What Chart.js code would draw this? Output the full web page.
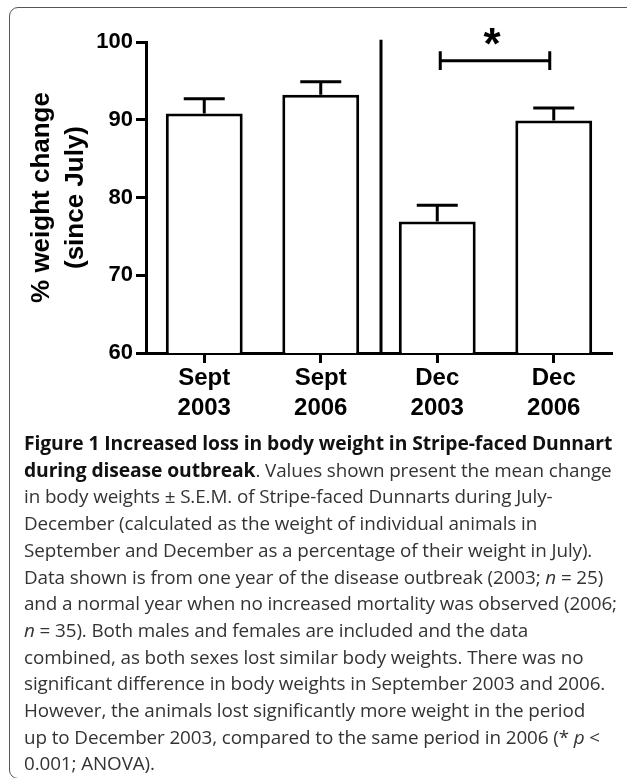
<!DOCTYPE html>
<html>
<head>
<meta charset="utf-8">
<script src="https://cdn.jsdelivr.net/npm/chart.js@4.4.1/dist/chart.umd.min.js"></script>
<style>
  html, body { margin: 0; padding: 0; background: #fff; width: 627px; height: 778px; overflow: hidden; }
  #frame {
    position: absolute; left: 9px; top: 7px; width: 660px; height: 772px;
    border: 1.5px solid #555; border-radius: 9px; box-sizing: border-box;
  }
  #plot { position: absolute; left: 0; top: 0; }
  #caption {
    position: absolute; left: 24px; top: 430px;
    font-family: "Open Sans", Lato, sans-serif; font-size: 18.85px; line-height: 26.7px;
    color: #333; white-space: nowrap; letter-spacing: -0.1px;
  }
  #caption b { color: #111; font-weight: 700; font-size: 19.3px; }
</style>
</head>
<body>
<div id="frame"></div>
<canvas id="plot" width="627" height="430"></canvas>
<div id="caption">
  <b>Figure 1 Increased loss in body weight in Stripe-faced Dunnart</b><br>
  <b>during disease outbreak</b>. Values shown present the mean change<br>
  in body weights ± S.E.M. of Stripe-faced Dunnarts during July-<br>
  December (calculated as the weight of individual animals in<br>
  September and December as a percentage of their weight in July).<br>
  Data shown is from one year of the disease outbreak (2003; <i>n</i> = 25)<br>
  and a normal year when no increased mortality was observed (2006;<br>
  <i>n</i> = 35). Both males and females are included and the data<br>
  combined, as both sexes lost similar body weights. There was no<br>
  significant difference in body weights in September 2003 and 2006.<br>
  However, the animals lost significantly more weight in the period<br>
  up to December 2003, compared to the same period in 2006 (* <i>p</i> &lt;<br>
  0.001; ANOVA).
</div>
<script>
// Data
const months = ['Sept', 'Sept', 'Dec', 'Dec']
const years = ['2003', '2006', '2003', '2006']
const meanChange = [90.8, 93.2, 76.9, 89.9]
const semChange = [1.9, 1.7, 2.1, 1.6]
const yMin = 60
const yMax = 100
const yStep = 10

// Significance bracket between Dec 2003 and Dec 2006
const sigPair = [2, 3]
const sigLevel = 97.6
const sigLabel = '*'

const labels = months.map((m, i) => [m, years[i]])

// Error bars, divider and significance bracket
const extras = {
  id: 'extras',
  afterDatasetsDraw(chart) {
    const ctx = chart.ctx
    const x = chart.scales.x
    const y = chart.scales.y
    const bars = chart.getDatasetMeta(0).data

    ctx.save()
    ctx.strokeStyle = '#000'
    ctx.lineWidth = 3
    ctx.lineCap = 'butt'

    // SEM whiskers (upper only)
    bars.forEach((bar, i) => {
      const top = y.getPixelForValue(meanChange[i] + semChange[i])
      const base = y.getPixelForValue(meanChange[i])
      ctx.beginPath()
      ctx.moveTo(bar.x, base)
      ctx.lineTo(bar.x, top)
      ctx.moveTo(bar.x - 20.5, top)
      ctx.lineTo(bar.x + 20.5, top)
      ctx.stroke()
    })

    // divider between September and December groups
    const divX = (x.getPixelForValue(1) + x.getPixelForValue(2)) / 2 + 2
    ctx.beginPath()
    ctx.moveTo(divX, y.getPixelForValue(100.3))
    ctx.lineTo(divX, y.bottom)
    ctx.stroke()

    // bracket
    const x1 = x.getPixelForValue(sigPair[0]) + 3
    const x2 = x.getPixelForValue(sigPair[1]) - 4
    const yb = y.getPixelForValue(sigLevel)
    const yt = y.getPixelForValue(sigLevel + 1.2)
    const yd = y.getPixelForValue(sigLevel - 1.2)
    ctx.beginPath()
    ctx.moveTo(x1, yb)
    ctx.lineTo(x2, yb)
    ctx.moveTo(x1, yt)
    ctx.lineTo(x1, yd)
    ctx.moveTo(x2, yt)
    ctx.lineTo(x2, yd)
    ctx.stroke()

    ctx.fillStyle = '#000'
    ctx.font = 'bold 44px "Liberation Sans", Arial, sans-serif'
    ctx.textAlign = 'center'
    ctx.textBaseline = 'alphabetic'
    ctx.fillText(sigLabel, (x1 + x2) / 2 - 3, y.getPixelForValue(101) + 0.56 * 44)
    ctx.restore()
  }
}

new Chart('plot', {
  type: 'bar',
  data: {
    labels: labels,
    datasets: [{
      data: meanChange,
      backgroundColor: '#fff',
      borderColor: '#000',
      borderWidth: 3,
      barPercentage: 0.66,
      categoryPercentage: 1.0
    }]
  },
  options: {
    responsive: false,
    animation: false,
    layout: {
      padding: { top: 42, right: 15, left: 0, bottom: 0 }
    },
    plugins: {
      legend: { display: false },
      tooltip: { enabled: false }
    },
    scales: {
      x: {
        afterFit: (scale) => { scale.height = 77 },
        grid: {
          drawOnChartArea: false,
          drawTicks: true,
          tickLength: 10,
          tickWidth: 3,
          color: '#000',
          offset: false
        },
        border: { display: true, color: '#000', width: 3 },
        ticks: {
          color: '#000',
          padding: 0,
          font: { family: '"Liberation Sans", Arial, sans-serif', size: 24, weight: 'bold', lineHeight: 1.25 }
        }
      },
      y: {
        min: yMin,
        max: yMax,
        afterFit: (scale) => { scale.width = 146 },
        grid: {
          drawOnChartArea: false,
          drawTicks: true,
          tickLength: 10,
          tickWidth: 3,
          color: '#000'
        },
        border: { display: true, color: '#000', width: 3 },
        ticks: {
          stepSize: yStep,
          color: '#000',
          padding: 3,
          font: { family: '"Liberation Sans", Arial, sans-serif', size: 22, weight: 'bold' }
        },
        title: {
          display: true,
          text: ['% weight change', '(since July)'],
          color: '#000',
          padding: { top: 25, bottom: 0 },
          font: { family: '"Liberation Sans", Arial, sans-serif', size: 26, weight: 'bold', lineHeight: 1.308 }
        }
      }
    }
  },
  plugins: [extras]
})
</script>
</body>
</html>
